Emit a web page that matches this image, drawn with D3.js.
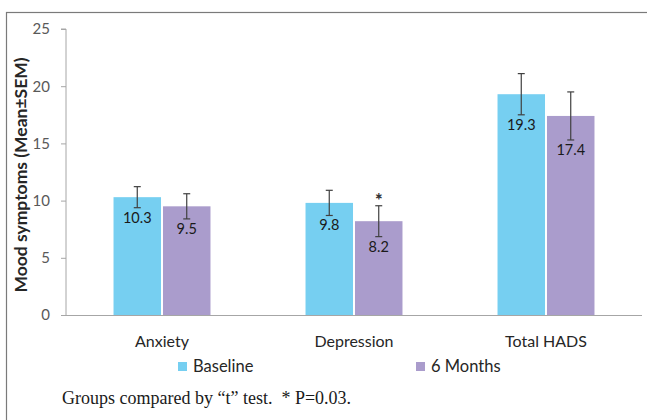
<!DOCTYPE html>
<html>
<head>
<meta charset="utf-8">
<script src="https://cdn.jsdelivr.net/npm/d3@7"></script>
<style>
  html, body { margin: 0; padding: 0; background: #fff; overflow: hidden; }
  svg { display: block; }
</style>
</head>
<body>
<svg id="chart" width="647" height="420"></svg>
<script>
// Mood symptom scores (mean ± SEM), baseline vs 6 months
const categories = ["Anxiety", "Depression", "Total HADS"];
const seriesNames = ["Baseline", "6 Months"];
const baselineMeans = [10.3, 9.8, 19.3];
const sixMonthMeans = [9.5, 8.2, 17.4];
const baselineSem = [0.92, 1.1, 1.8];
const sixMonthSem = [1.1, 1.35, 2.1];
const significant = [false, true, false]; // 6-month value significant vs baseline
const yTicks = [0, 5, 10, 15, 20, 25];
const colors = ["#76CFF1", "#AA9CCC"];

const svg = d3.select("#chart");
const font = "Lato, 'Open Sans', 'Noto Sans', sans-serif";

// outer frame
svg.append("rect")
  .attr("x", 6.5).attr("y", 12.5)
  .attr("width", 700).attr("height", 500)
  .attr("fill", "none").attr("stroke", "#7a7a7a").attr("stroke-width", 1.2);

const plot = { left: 66, right: 642, top: 29, bottom: 315 };

const y = d3.scaleLinear().domain([0, 25]).range([plot.bottom, plot.top]);
const x0 = d3.scaleBand().domain(categories).range([plot.left, plot.right]).paddingInner(0.495).paddingOuter(0.2475);
const x1 = d3.scaleBand().domain(seriesNames).range([0, x0.bandwidth()]).paddingInner(0.04);

// y axis
const yAxis = svg.append("g")
  .attr("transform", `translate(${plot.left},0)`)
  .call(d3.axisLeft(y).tickValues(yTicks).tickSize(5).tickPadding(11));
yAxis.select(".domain").attr("stroke", "#a6a6a6").attr("d", `M-5,${y(25)}H0V${y(0)}`);
yAxis.selectAll(".tick line").attr("stroke", "#a6a6a6");
yAxis.selectAll(".tick text").attr("fill", "#595959").style("font-family", font).style("font-size", "15px");

// rows of data
const rows = categories.map((c, i) => ({
  category: c,
  values: [
    { series: seriesNames[0], mean: baselineMeans[i], sem: baselineSem[i], sig: false, color: colors[0] },
    { series: seriesNames[1], mean: sixMonthMeans[i], sem: sixMonthSem[i], sig: significant[i], color: colors[1] }
  ]
}));

const groups = svg.append("g").selectAll("g").data(rows).join("g")
  .attr("transform", d => `translate(${x0(d.category)},0)`);

const bars = groups.selectAll("g.bar").data(d => d.values).join("g").attr("class", "bar");

bars.append("rect")
  .attr("x", d => x1(d.series))
  .attr("width", x1.bandwidth())
  .attr("y", d => y(d.mean))
  .attr("height", d => y(0) - y(d.mean))
  .attr("fill", d => d.color);

// error bars
const capW = 3.5;
bars.each(function(d) {
  const g = d3.select(this);
  const cx = x1(d.series) + x1.bandwidth() / 2;
  const yHi = y(d.mean + d.sem), yLo = y(d.mean - d.sem);
  g.append("line").attr("x1", cx).attr("x2", cx).attr("y1", yHi).attr("y2", yLo)
    .attr("stroke", "#404040").attr("stroke-width", 1.2);
  [yHi, yLo].forEach(yy => g.append("line")
    .attr("x1", cx - capW).attr("x2", cx + capW).attr("y1", yy).attr("y2", yy)
    .attr("stroke", "#404040").attr("stroke-width", 1.2));
  g.append("text")
    .attr("x", cx).attr("y", yLo + 15)
    .attr("text-anchor", "middle")
    .attr("fill", "#1a1a1a")
    .style("font-family", font).style("font-size", "14.5px")
    .text(d3.format(".1f")(d.mean));
  if (d.sig) {
    g.append("text")
      .attr("x", cx).attr("y", yHi + 1)
      .attr("text-anchor", "middle")
      .attr("fill", "#333")
      .style("font-family", font).style("font-size", "18px").style("font-weight", "900")
      .text("*");
  }
});

// x axis
svg.append("line")
  .attr("x1", plot.left).attr("x2", plot.right)
  .attr("y1", y(0) + 0.5).attr("y2", y(0) + 0.5)
  .attr("stroke", "#a6a6a6").attr("stroke-width", 1.2);

svg.append("g").selectAll("text").data(categories).join("text")
  .attr("x", d => x0(d) + x0.bandwidth() / 2)
  .attr("y", 347)
  .attr("text-anchor", "middle")
  .attr("fill", "#262626")
  .style("font-family", font).style("font-size", "16px")
  .text(d => d);

// y axis title
svg.append("text")
  .attr("transform", `translate(27,${(plot.top + plot.bottom) / 2 + 3}) rotate(-90)`)
  .attr("text-anchor", "middle")
  .attr("fill", "#262626")
  .style("font-family", font).style("font-size", "17.5px").style("font-weight", "bold")
  .text("Mood symptoms (Mean±SEM)");

// legend
const legendX = [178, 416];
const legend = svg.append("g").selectAll("g").data(seriesNames).join("g")
  .attr("transform", (d, i) => `translate(${legendX[i]},362)`);
legend.append("rect").attr("width", 9).attr("height", 9).attr("fill", (d, i) => colors[i]);
legend.append("text")
  .attr("x", 15).attr("y", 9.5)
  .attr("fill", "#262626")
  .style("font-family", font).style("font-size", "16.5px")
  .text(d => d);

// footnote
svg.append("text")
  .attr("x", 62).attr("y", 404)
  .attr("fill", "#1a1a1a")
  .style("font-family", "'Liberation Serif', 'Times New Roman', serif").style("font-size", "18px")
  .attr("xml:space", "preserve")
  .text("Groups compared by \u201Ct\u201D test.  * P=0.03.");
</script>
</body>
</html>
